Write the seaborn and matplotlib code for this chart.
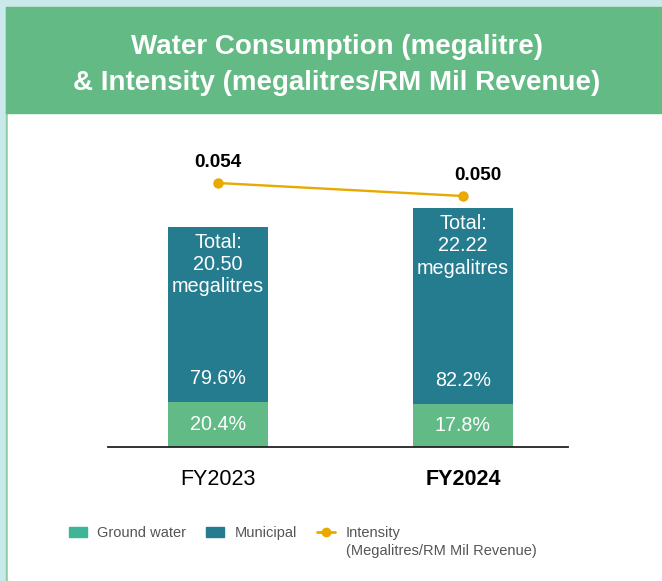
import matplotlib
matplotlib.use("Agg")
import matplotlib.pyplot as plt
from matplotlib.patches import Rectangle
from matplotlib.lines import Line2D
import seaborn as sns
import pandas as pd

years = ["FY2023", "FY2024"]
total = [20.50, 22.22]
ground_pct = [20.4, 17.8]
municipal_pct = [79.6, 82.2]
intensity = [0.054, 0.050]

C_GROUND = "#62bb86"
C_MUNI = "#267c8f"
C_LEG_GROUND = "#3fb597"
C_GOLD = "#e8a900"
C_HEAD = "#64ba84"
C_BG = "#c9e9ea"

sns.set_theme(style="white")
plt.rcParams["font.family"] = ["Liberation Sans", "DejaVu Sans"]

W, H = 662, 581
fig = plt.figure(figsize=(W / 100, H / 100), dpi=100)

# background decorations
bg = fig.add_axes([0, 0, 1, 1], zorder=-10)
bg.set_xlim(0, W)
bg.set_ylim(H, 0)
bg.axis("off")
bg.add_patch(Rectangle((0, 0), W, H, color=C_BG))
bg.add_patch(Rectangle((6, 7), W - 6, H - 7, color="#8fcea5"))
bg.add_patch(Rectangle((8, 7), W - 8, H - 7, color="white"))
bg.add_patch(Rectangle((6, 7), W - 6, 106, color=C_HEAD))
bg.text(337, 65, "Water Consumption (megalitre)\n& Intensity (megalitres/RM Mil Revenue)",
        ha="center", va="center", color="white", fontsize=20, fontweight="bold",
        linespacing=1.45)

df = pd.DataFrame({"year": years, "total": total,
                   "ground": [t * g / 100 for t, g in zip(total, ground_pct)]})

ax = fig.add_axes([108 / W, (H - 447) / H, 460 / W, (447 - 130) / H])
ax.set_facecolor("none")
sns.barplot(data=df, x="year", y="total", color=C_MUNI, width=0.408,
            saturation=1, linewidth=0, edgecolor="none", ax=ax, zorder=2)
sns.barplot(data=df, x="year", y="ground", color=C_GROUND, width=0.408,
            saturation=1, linewidth=0, edgecolor="none", ax=ax, zorder=3)
ax.set_xlim(-0.449, 1.4287)
ax.set_ylim(0, 29.49)
ax.set_xlabel("")
ax.set_ylabel("")
ax.set_yticks([])
for s in ["top", "right", "left"]:
    ax.spines[s].set_visible(False)
ax.spines["bottom"].set_color("#222222")
ax.spines["bottom"].set_linewidth(1.3)
ax.spines["bottom"].set_zorder(4)
ax.tick_params(axis="x", length=0, pad=16, labelsize=15.5, colors="black")
for lbl in ax.get_xticklabels():
    if lbl.get_text() == "FY2024":
        lbl.set_fontweight("bold")

for i, (t, g, gp, mp) in enumerate(zip(total, df["ground"], ground_pct, municipal_pct)):
    ax.text(i, t - 0.55, f"Total:\n{t:.2f}\nmegalitres", ha="center", va="top",
            color="white", fontsize=14.3, linespacing=1.22, zorder=5)
    ax.text(i, g / 2, f"{gp:.1f}%", ha="center", va="center", color="white",
            fontsize=14.2, zorder=5)
    ax.text(i, g + 2.2, f"{mp:.1f}%", ha="center", va="center", color="white",
            fontsize=14.2, zorder=5)

ax2 = ax.twinx()
ax2.set_ylim(-0.02723, 0.07031)
ax2.axis("off")
sns.lineplot(x=[0, 1], y=intensity, ax=ax2, color=C_GOLD, linewidth=1.7,
             marker="o", markersize=7.5, markeredgewidth=0, zorder=6)
offsets = [0, 0.06]
for i, v in enumerate(intensity):
    ax2.text(i + offsets[i], v + 0.0062, f"{v:.3f}", ha="center", va="center",
             fontsize=13.6, fontweight="bold", color="black")

handles = [Rectangle((0, 0), 1, 1, color=C_LEG_GROUND),
           Rectangle((0, 0), 1, 1, color=C_MUNI),
           Line2D([], [], color=C_GOLD, marker="o", markersize=6, linewidth=2)]
labels = ["Ground water", "Municipal", "Intensity"]
leg = fig.legend(handles, labels, loc="upper left", bbox_to_anchor=(69 / W, (H - 526) / H),
                 ncol=3, frameon=False, fontsize=10.5, handlelength=1.2,
                 handleheight=0.7, handletextpad=0.75, columnspacing=1.37,
                 borderpad=0, borderaxespad=0)
for txt in leg.get_texts():
    txt.set_color("#555555")

fig.canvas.draw()
t3 = leg.get_texts()[2]
bb = t3.get_window_extent(fig.canvas.get_renderer())
fig.text(bb.x0 / W, (bb.y0 - 18) / H, "(Megalitres/RM Mil Revenue)", ha="left",
         va="bottom", fontsize=10.5, color="#555555")

fig.savefig("out.png", dpi=100)
